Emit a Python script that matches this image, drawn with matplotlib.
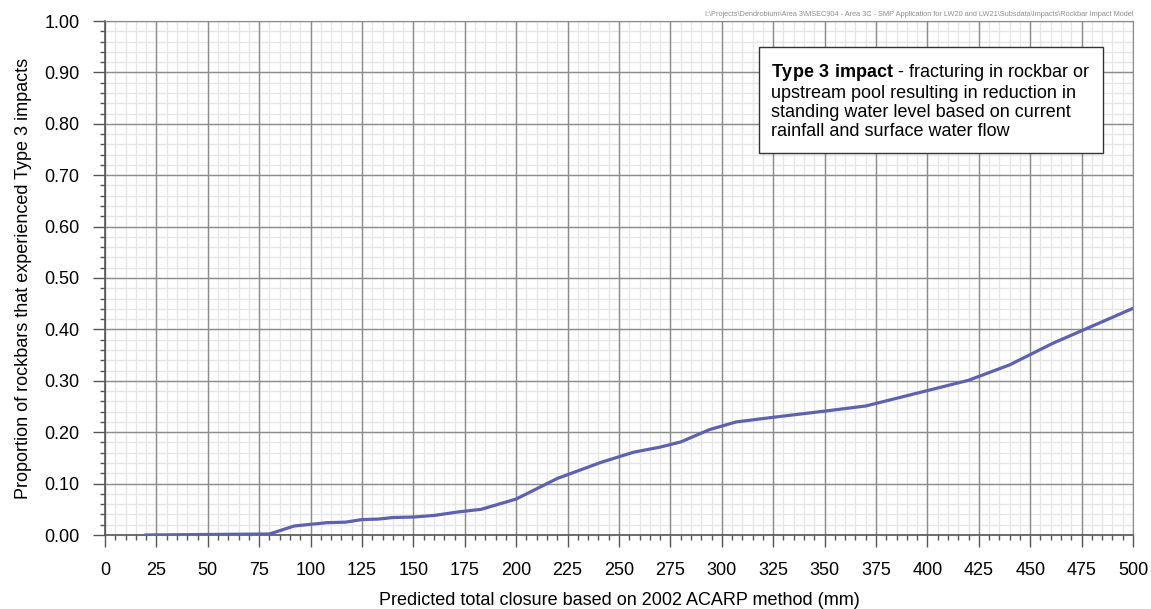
import matplotlib
matplotlib.use('Agg')
import matplotlib.pyplot as plt
import numpy as np
from matplotlib.ticker import MultipleLocator, FormatStrFormatter

plt.rcParams['font.family'] = ['Liberation Sans', 'DejaVu Sans']
plt.rcParams['mathtext.fontset'] = 'custom'
plt.rcParams['mathtext.rm'] = 'Liberation Sans'
plt.rcParams['mathtext.bf'] = 'Liberation Sans:bold'

# closure (mm) vs proportion of rockbars with Type 3 impacts
closure = [20, 80, 92, 108, 117, 125, 133, 140, 150, 160, 172, 183, 200, 220,
           241, 257, 270, 280, 294, 307, 325, 350, 370, 420, 440, 461, 500]
proportion = [0.0, 0.002, 0.0175, 0.024, 0.025, 0.030, 0.031, 0.034, 0.035,
              0.038, 0.045, 0.050, 0.070, 0.110, 0.141, 0.161, 0.171, 0.181,
              0.205, 0.220, 0.229, 0.241, 0.251, 0.301, 0.331, 0.373, 0.441]

path_note = ("I:\\Projects\\Dendrobium\\Area 3\\MSEC904 - Area 3C - SMP Application "
             "for LW20 and LW21\\Subsdata\\Impacts\\Rockbar Impact Model")
box_text = ("$\\bf{Type\\ 3\\ impact}$ - fracturing in rockbar or\n"
            "upstream pool resulting in reduction in\n"
            "standing water level based on current\n"
            "rainfall and surface water flow")

W, H = 1151, 609
fig = plt.figure(figsize=(W / 100, H / 100), dpi=100)
ax = fig.add_axes([105 / W, 1 - 535 / H, (1133 - 105) / W, (535 - 21) / H])

ax.plot(closure, proportion, color='#5c62b0', linewidth=2.3, zorder=3)

ax.set_xlim(0, 500)
ax.set_ylim(0, 1.0)
ax.xaxis.set_major_locator(MultipleLocator(25))
ax.xaxis.set_minor_locator(MultipleLocator(5))
ax.yaxis.set_major_locator(MultipleLocator(0.1))
ax.yaxis.set_minor_locator(MultipleLocator(0.02))
ax.yaxis.set_major_formatter(FormatStrFormatter('%.2f'))

# light minor grid first, so the darker major grid stays solid on top
ax.vlines(np.arange(0, 501, 5), 0, 1, color='#e6e6e6', linewidth=1.0, zorder=0.2)
ax.hlines(np.arange(0, 1.001, 0.02), 0, 500, color='#e6e6e6', linewidth=1.0, zorder=0.2)
ax.grid(which='major', color='#8c8c8c', linewidth=1.0)
ax.set_axisbelow(True)

for side in ['top', 'right']:
    ax.spines[side].set_color('#8c8c8c')
for side in ['left', 'bottom']:
    ax.spines[side].set_color('#555555')
    ax.spines[side].set_linewidth(1.2)

ax.tick_params(which='major', direction='out', length=8.5, width=1, color='#555555',
               labelsize=13, labelcolor='black')
ax.tick_params(which='minor', direction='out', length=3.6, width=1, color='#555555')
ax.tick_params(axis='y', which='major', pad=10)
ax.tick_params(axis='x', which='major', pad=11)

ax.set_xlabel('Predicted total closure based on 2002 ACARP method (mm)', fontsize=13, labelpad=9)
ax.set_ylabel('Proportion of rockbars that experienced Type 3 impacts', fontsize=13, labelpad=9)

ax.text(0.648, 0.920, box_text, transform=ax.transAxes, fontsize=13,
        ha='left', va='top', linespacing=1.15, zorder=5,
        bbox=dict(boxstyle='square,pad=0.7', facecolor='white', edgecolor='#333333', linewidth=1))

fig.text(1133 / W, 1 - 14 / H, path_note, fontsize=5.3, color='#8c8c8c', ha='right', va='center')

fig.savefig('out.png', dpi=100)
